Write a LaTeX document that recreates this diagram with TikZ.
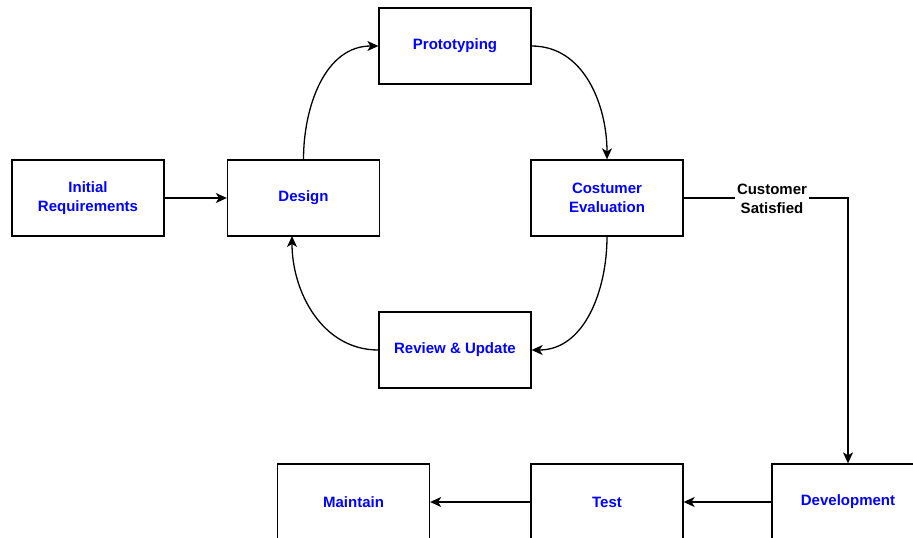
\documentclass[tikz,border=0pt]{standalone}
\usepackage{fontspec}
\setmainfont{Liberation Sans}
\usetikzlibrary{arrows.meta}

\begin{document}
\begin{tikzpicture}[x=1pt, y=-1pt, line width=1.3pt, >={Stealth[length=11pt, width=10pt, inset=3pt]}]
				\tikzset{stage/.style={draw, minimum width=152pt, minimum height=76pt, align=center, inner sep=1pt, text=blue, font=\bfseries\fontsize{15}{18.5}\selectfont}}
				\useasboundingbox (0, 0) rectangle (913, 538);
				\node[stage] (IR) at (88, 198) {Initial\\Requirements};
				\node[stage] (D) at (303.5, 198) {Design};
				\node[stage] (P) at (455, 46) {Prototyping};
				\node[stage] (CE) at (607, 198) {Costumer\\Evaluation};
				\node[stage] (RU) at (455, 350) {Review \& Update};
				\node[stage] (Dev) at (848, 502) {Development};
				\node[stage] (T) at (607, 502) {Test};
				\node[stage] (M) at (353.5, 502) {Maintain};
				\coordinate (Dbot) at (292, 236);
				\coordinate (turn) at (848, 198);

				\draw[->]  (IR) to (D);
				\draw[->]  (D.north) to[out=90, in=180] (P.west);
				\draw[->]  (P.east) to[out=0, in=90] (CE.north);
				\draw[->]  (CE.south) to[out=-90, in=0] (RU.east);
				\draw[->]  (RU.west) to[out=180, in=-90] (Dbot);
				\draw[->]  (CE.east) -- (turn) -- (Dev.north);
				\node[fill=white, align=center, inner sep=2pt, font=\bfseries\fontsize{15}{18.5}\selectfont] (CS) at (772, 199) {Customer\\Satisfied};
				\draw[->]  (Dev) to (T);
				\draw[->]  (T) to (M);

			\end{tikzpicture}
\end{document}
